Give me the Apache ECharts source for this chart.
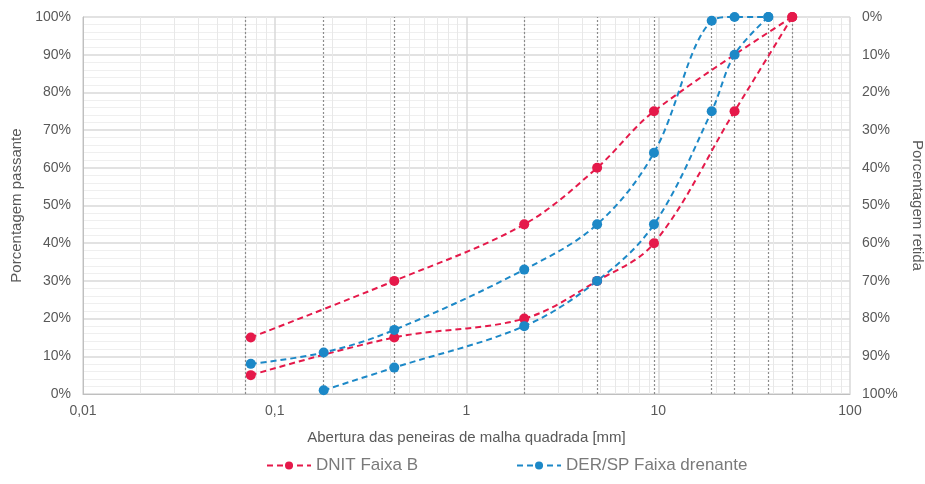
<!DOCTYPE html>
<html><head><meta charset="utf-8">
<script src="https://cdn.jsdelivr.net/npm/echarts@6/dist/echarts.min.js"></script>
<style>html,body{margin:0;padding:0;background:#fff}#c{width:925px;height:484px}</style>
</head><body><div id="c"></div>
<script>
// Sieve openings (mm)
const sieves = [0.075, 0.18, 0.42, 2, 4.8, 9.5, 19, 25, 37.5, 50];
// DNIT Faixa B limits [mm, % passing]
const dnitUpper = [[0.075,15],[0.42,30],[2,45],[4.8,60],[9.5,75],[50,100]];
const dnitLower = [[0.075,5],[0.42,15],[2,20],[4.8,30],[9.5,40],[25,75],[50,100]];
// DER/SP Faixa drenante limits
const derUpper = [[0.075,8],[0.18,11],[0.42,17],[2,33],[4.8,45],[9.5,64],[19,99],[25,100],[37.5,100]];
const derLower = [[0.18,1],[0.42,7],[2,18],[4.8,30],[9.5,45],[19,75],[25,90],[37.5,100]];
const names = ['DNIT Faixa B', 'DER/SP Faixa drenante'];
const xTitle = 'Abertura das peneiras de malha quadrada [mm]';
const yTitleLeft = 'Porcentagem passante';
const yTitleRight = 'Porcentagem retida';

const RED = '#E5194A', BLUE = '#1C88C7';
const FONT = 'Liberation Sans, Arial, sans-serif';
const minorX = [];
[0.01,0.1,1,10].forEach(d=>{for(let k=2;k<=9;k++) minorX.push(+(d*k).toPrecision(3));});

function lineSeries(name, data, color){
  return {name, type:'line', data, smooth:0.35, symbol:'circle', symbolSize:10,
    itemStyle:{color}, lineStyle:{color, width:2, type:[6,4]}, z:5};
}
const chart = echarts.init(document.getElementById('c'), null, {renderer:'canvas'});
chart.setOption({
  animation:false,
  grid:{left:83, right:75, top:17, bottom:90, outerBoundsMode:'none', containLabel:false},
  textStyle:{fontFamily:FONT},
  legend:{top:452, left:261, itemWidth:44, itemHeight:10, itemGap:98,
    data:names, textStyle:{fontSize:17, color:'#7a7a7a', fontFamily:FONT}},
  xAxis:{type:'log', logBase:10, min:0.01, max:100,
    name:xTitle, nameLocation:'middle', nameGap:36,
    nameTextStyle:{fontSize:15, color:'#595959', fontFamily:FONT},
    axisLine:{show:true, lineStyle:{color:'#bfbfbf'}}, axisTick:{show:false},
    axisLabel:{fontSize:14, color:'#595959', margin:10,
      formatter:v=>String(+v.toPrecision(3)).replace('.',',')},
    splitLine:{show:true, lineStyle:{color:'#d9d9d9', width:1.5}}},
  yAxis:[
    {type:'value', min:0, max:100, interval:10,
      name:yTitleLeft, nameLocation:'middle', nameGap:56, nameRotate:90,
      nameTextStyle:{fontSize:15, color:'#595959', fontFamily:FONT},
      axisLine:{show:true, lineStyle:{color:'#bfbfbf'}}, axisTick:{show:false},
      axisLabel:{fontSize:14, color:'#595959', formatter:'{value}%', margin:12},
      splitLine:{lineStyle:{color:'#d9d9d9', width:1.5}},
      minorTick:{show:false, splitNumber:5},
      minorSplitLine:{show:true, lineStyle:{color:'#efefef', width:1}}},
    {type:'value', min:0, max:100, interval:10, inverse:true, position:'right',
      name:yTitleRight, nameLocation:'middle', nameGap:60, nameRotate:-90,
      nameTextStyle:{fontSize:15, color:'#595959', fontFamily:FONT},
      axisLine:{show:false}, axisTick:{show:false},
      axisLabel:{fontSize:14, color:'#595959', formatter:'{value}%', margin:12},
      splitLine:{show:false}}
  ],
  series:[
    {type:'line', data:[], silent:true, z:1,
      markLine:{silent:true, symbol:'none', label:{show:false}, animation:false,
        lineStyle:{color:'#e8e8e8', width:1, type:'solid'},
        data:minorX.map(v=>({xAxis:v}))}},
    {type:'line', data:[], silent:true, z:2,
      markLine:{silent:true, symbol:'none', label:{show:false}, animation:false,
        lineStyle:{color:'#8c8c8c', width:1.2, type:[2,2]},
        data:sieves.map(v=>({xAxis:v}))}},
    lineSeries(names[0], dnitUpper, RED),
    lineSeries(names[0], dnitLower, RED),
    lineSeries(names[1], derUpper, BLUE),
    lineSeries(names[1], derLower, BLUE)
  ]
});
</script></body></html>
